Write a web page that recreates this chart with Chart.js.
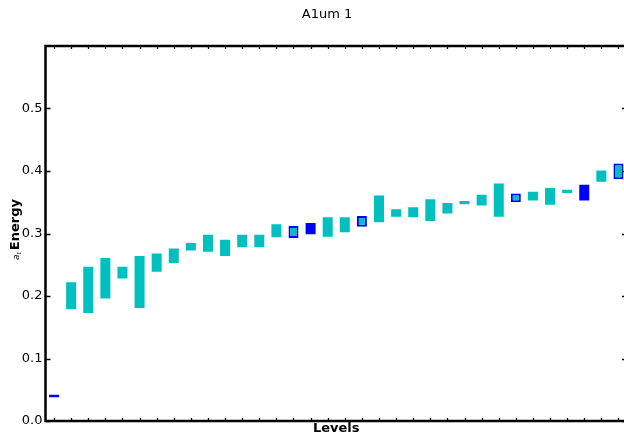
<!DOCTYPE html>
<html>
<head>
<meta charset="utf-8">
<script src="https://cdn.jsdelivr.net/npm/chart.js@4"></script>
<style>
  html, body { margin: 0; padding: 0; background: #fff; overflow: hidden; }
  #wrap { width: 624px; height: 434px; overflow: hidden; }
</style>
</head>
<body>
<div id="wrap"><canvas id="myChart" width="640" height="434"></canvas></div>
<script>
// energy range per level (low / high end of each bar)
const lo = [0.038, 0.179, 0.173, 0.196, 0.228, 0.181, 0.239, 0.253, 0.273, 0.271,
            0.264, 0.278, 0.278, 0.294, 0.293, 0.299, 0.295, 0.302, 0.311, 0.318,
            0.327, 0.326, 0.320, 0.332, 0.347, 0.345, 0.327, 0.350, 0.353, 0.346,
            0.365, 0.353, 0.383, 0.387];
const hi = [0.042, 0.222, 0.247, 0.261, 0.247, 0.264, 0.268, 0.276, 0.285, 0.298,
            0.290, 0.298, 0.298, 0.315, 0.312, 0.317, 0.326, 0.326, 0.328, 0.361,
            0.339, 0.342, 0.355, 0.349, 0.352, 0.362, 0.380, 0.364, 0.367, 0.373,
            0.370, 0.378, 0.401, 0.412];
// levels coming from the second source, and those present in both
const blueLevels = [0, 15, 31];
const bothLevels = [14, 18, 27, 33];
const yTicks = [0.0, 0.1, 0.2, 0.3, 0.4, 0.5];

const levels = lo.map((_, i) => String(i));
const pick = test => levels.map((_, i) => test(i) ? [lo[i], hi[i]] : null);

const CYAN = "#00bfbf";
const BLUE = "#0000ff";
const FONT = "'DejaVu Sans', sans-serif";

// box, inward ticks and the text around the axes
const frame = {
  id: "frame",
  afterDraw(chart) {
    const { ctx, chartArea: a, scales } = chart;
    ctx.save();
    ctx.strokeStyle = "#000";
    ctx.lineWidth = 1.3;
    ctx.beginPath();
    yTicks.forEach(v => {
      const y = Math.round(scales.y.getPixelForValue(v)) + 0.5;
      ctx.moveTo(a.left, y); ctx.lineTo(a.left + 5, y);
      ctx.moveTo(a.right - 5, y); ctx.lineTo(a.right, y);
    });
    levels.forEach((_, i) => {
      const x = Math.round(scales.x.getPixelForValue(i)) + 0.5;
      ctx.moveTo(x, a.bottom); ctx.lineTo(x, a.bottom - 3);
      ctx.moveTo(x, a.top); ctx.lineTo(x, a.top + 3);
    });
    ctx.stroke();
    ctx.lineWidth = 2.5;
    ctx.strokeRect(a.left, a.top, a.right - a.left, a.bottom - a.top);

    ctx.fillStyle = "#000";
    ctx.textAlign = "center";
    ctx.textBaseline = "middle";
    ctx.font = "13px " + FONT;
    ctx.fillText("A1um 1", 327, 15);
    ctx.font = "bold 13px " + FONT;
    ctx.fillText("Levels", (a.left + a.right) / 2, 429);

    // rotated y label: small italic a_t, then bold "Energy"
    ctx.translate(15, (a.top + a.bottom) / 2 - 4);
    ctx.rotate(-Math.PI / 2);
    ctx.textAlign = "left";
    ctx.textBaseline = "alphabetic";
    ctx.font = "bold 13px " + FONT;
    const wE = ctx.measureText("Energy").width;
    ctx.font = "italic 9px " + FONT;
    const wa = ctx.measureText("a").width;
    ctx.font = "italic 6px " + FONT;
    const wt = ctx.measureText("t").width;
    let x0 = -(wa + wt + 2 + wE) / 2;
    ctx.font = "italic 9px " + FONT;
    ctx.fillText("a", x0, 4);
    ctx.font = "italic 6px " + FONT;
    ctx.fillText("t", x0 + wa, 6);
    ctx.font = "bold 13px " + FONT;
    ctx.fillText("Energy", x0 + wa + wt + 2, 4);
    ctx.restore();
  }
};

new Chart(document.getElementById("myChart"), {
  type: "bar",
  data: {
    labels: levels,
    datasets: [
      { data: pick(i => !blueLevels.includes(i) && !bothLevels.includes(i)), backgroundColor: CYAN },
      { data: pick(i => blueLevels.includes(i)), backgroundColor: BLUE },
      { data: pick(i => bothLevels.includes(i)), backgroundColor: CYAN,
        borderColor: BLUE, borderWidth: 2, borderSkipped: false }
    ]
  },
  options: {
    responsive: false,
    animation: false,
    layout: { padding: { top: 46, right: 13, left: 0, bottom: 0 } },
    datasets: { bar: { grouped: false, categoryPercentage: 1, barPercentage: 0.585 } },
    plugins: { legend: { display: false }, tooltip: { enabled: false } },
    scales: {
      x: {
        grid: { display: false, drawTicks: false },
        border: { display: false },
        ticks: { display: false },
        afterFit: s => { s.height = 13; }
      },
      y: {
        min: 0,
        max: 0.6,
        grid: { display: false, drawTicks: false },
        border: { display: false },
        ticks: {
          stepSize: 0.1,
          padding: 3,
          color: "#000",
          font: { family: FONT, size: 13 },
          callback: v => v > 0.55 ? "" : v.toFixed(1)
        },
        afterFit: s => { s.width = 45.5; }
      }
    }
  },
  plugins: [frame]
});
</script>
</body>
</html>
